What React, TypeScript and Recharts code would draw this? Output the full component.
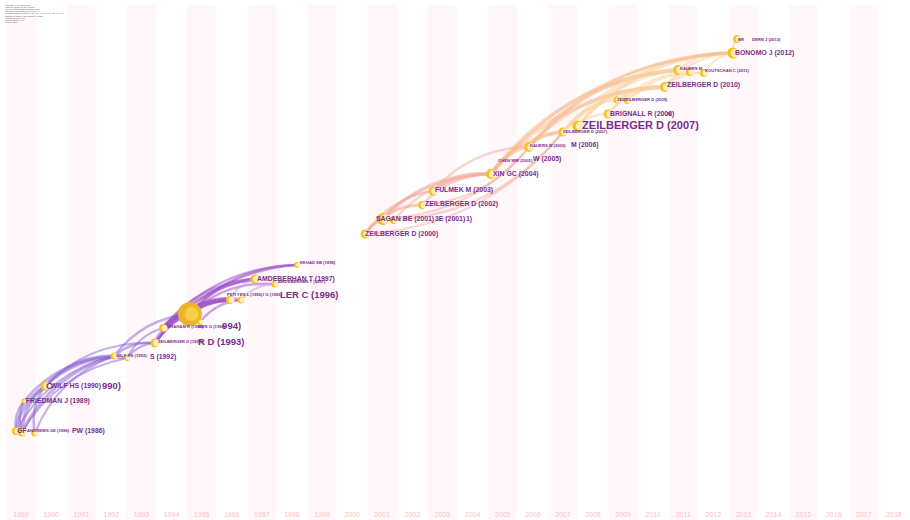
import React from 'react';
import { ScatterChart, Scatter, XAxis, YAxis, ReferenceArea, ReferenceLine } from 'recharts';

// ---- data ----
const years = [1989, 1990, 1991, 1992, 1993, 1994, 1995, 1996, 1997, 1998, 1999, 2000, 2001, 2002, 2003, 2004, 2005, 2006, 2007, 2008, 2009, 2010, 2011, 2012, 2013, 2014, 2015, 2016, 2017, 2018];

// cited references: x = time-zone position (year), y = layout row, cites = citation count
const nodes = [
  { id: 'a1', x: 1988.83, y: 431, cites: 11 },
  { id: 'a2', x: 1989.03, y: 432, cites: 14 },
  { id: 'a3', x: 1989.46, y: 433, cites: 9 },
  { id: 'fr', x: 1989.1, y: 401, cites: 4 },
  { id: 'w90', x: 1989.8, y: 386, cites: 14 },
  { id: 'w92', x: 1992.09, y: 356, cites: 9 },
  { id: 'w92b', x: 1992.52, y: 358, cites: 6 },
  { id: 'z93', x: 1993.45, y: 343, cites: 14 },
  { id: 'g94', x: 1993.72, y: 328, cites: 11 },
  { id: 'big', x: 1994.61, y: 314, cites: 100 },
  { id: 'e94', x: 1994.95, y: 322, cites: 6 },
  { id: 'p96a', x: 1995.94, y: 300, cites: 11 },
  { id: 'p96b', x: 1996.31, y: 300, cites: 9 },
  { id: 'a97a', x: 1996.77, y: 279, cites: 14 },
  { id: 'a97b', x: 1997.44, y: 284, cites: 9 },
  { id: 'ek98', x: 1998.17, y: 265, cites: 6 },
  { id: 'z00', x: 2000.43, y: 234, cites: 14 },
  { id: 's01a', x: 2001.02, y: 219, cites: 25 },
  { id: 's01b', x: 2001.39, y: 220, cites: 11 },
  { id: 'z02', x: 2002.32, y: 205, cites: 11 },
  { id: 'f03', x: 2002.69, y: 191, cites: 14 },
  { id: 'x04', x: 2004.61, y: 174, cites: 17 },
  { id: 'k06', x: 2005.88, y: 147, cites: 17 },
  { id: 'z07a', x: 2007.0, y: 132, cites: 14 },
  { id: 'z07b', x: 2007.5, y: 126, cites: 21 },
  { id: 'b08', x: 2008.5, y: 114, cites: 14 },
  { id: 'z09a', x: 2008.8, y: 100, cites: 9 },
  { id: 'z09b', x: 2009.13, y: 101, cites: 6 },
  { id: 'z10', x: 2010.39, y: 87, cites: 17 },
  { id: 'k11a', x: 2010.83, y: 70, cites: 17 },
  { id: 'k11b', x: 2011.22, y: 72, cites: 11 },
  { id: 'k11c', x: 2011.69, y: 73, cites: 11 },
  { id: 'bo12', x: 2012.65, y: 53, cites: 21 },
  { id: 'br13', x: 2012.79, y: 39, cites: 11 },
];

// visible label texts: x = left edge (year), y = row, level = citation level
const labels = [
  { text: 'GF', x: 1988.87, y: 430, level: 2 },
  { text: 'ANDREWS GE (1986)', x: 1989.2, y: 430, level: 1 },
  { text: 'PW (1986)', x: 1990.69, y: 430, level: 2 },
  { text: 'FRIEDMAN J (1989)', x: 1989.16, y: 400, level: 2 },
  { text: 'C', x: 1989.83, y: 385, level: 3 },
  { text: 'WILF HS (1990)', x: 1989.99, y: 385, level: 2 },
  { text: '990)', x: 1991.69, y: 385, level: 3 },
  { text: 'WILF HS (1992)', x: 1992.16, y: 355, level: 1 },
  { text: 'S (1992)', x: 1993.28, y: 356, level: 2 },
  { text: 'ZEILBERGER D (1993)', x: 1993.55, y: 341, level: 1 },
  { text: 'R D (1993)', x: 1994.88, y: 341, level: 3 },
  { text: 'GRAHAM R (1994)', x: 1993.85, y: 326, level: 1 },
  { text: 'EWS G (1994)', x: 1994.88, y: 326, level: 1 },
  { text: '994)', x: 1995.68, y: 325, level: 3 },
  { text: 'PETI', x: 1995.84, y: 294, level: 1 },
  { text: 'YEN L (1996)', x: 1996.17, y: 294, level: 1 },
  { text: 'I G (1996)', x: 1997.04, y: 294, level: 1 },
  { text: 'LER C (1996)', x: 1997.6, y: 294, level: 3 },
  { text: 'AMDEBERHAN T (1997)', x: 1996.84, y: 278, level: 2 },
  { text: 'AMDEBERHAN T (1997)', x: 1997.54, y: 281, level: 1 },
  { text: 'EKHAD SB (1998)', x: 1998.27, y: 262, level: 1 },
  { text: 'ZEILBERGER D (2000)', x: 2000.43, y: 233, level: 2 },
  { text: 'SAGAN BE (2001)', x: 2000.79, y: 218, level: 2 },
  { text: '3E (2001)', x: 2002.75, y: 218, level: 2 },
  { text: '1)', x: 2003.78, y: 218, level: 2 },
  { text: 'ZEILBERGER D (2002)', x: 2002.42, y: 203, level: 2 },
  { text: 'FULMEK M (2003)', x: 2002.75, y: 189, level: 2 },
  { text: 'XIN GC (2004)', x: 2004.68, y: 173, level: 2 },
  { text: 'CHEN WW (2005)', x: 2004.85, y: 160, level: 1 },
  { text: 'W (2005)', x: 2006.01, y: 158, level: 2 },
  { text: 'KAUERS M (2006)', x: 2005.91, y: 145, level: 1 },
  { text: 'M (2006)', x: 2007.27, y: 144, level: 2 },
  { text: 'ZEILBERGER D (2007)', x: 2007.0, y: 131, level: 1 },
  { text: 'ZEILBERGER D (2007)', x: 2007.64, y: 125, level: 4 },
  { text: 'BRIGNALL R (2008)', x: 2008.57, y: 113, level: 2 },
  { text: '8)', x: 2010.46, y: 113, level: 1 },
  { text: 'ZEI', x: 2008.8, y: 99, level: 1 },
  { text: 'ZEILBERGER D (2009)', x: 2009.0, y: 99, level: 1 },
  { text: 'ZEILBERGER D (2010)', x: 2010.46, y: 84, level: 2 },
  { text: 'KAUERS M', x: 2010.89, y: 68, level: 1 },
  { text: 'KOUTSCHAN C (2011)', x: 2011.72, y: 70, level: 1 },
  { text: 'BONOMO J (2012)', x: 2012.72, y: 52, level: 2 },
  { text: 'BR', x: 2012.82, y: 39, level: 1 },
  { text: 'DERN J (2013)', x: 2013.28, y: 39, level: 1 },
];

// co-citation links: [source, target, strength, arc side]
const links: [string, string, number, number][] = [
  ['a1', 'w90', 3.5, 1], ['a2', 'w90', 3.5, 1], ['a3', 'w90', 2.5, 1], ['a1', 'fr', 2.5, 1], ['a2', 'fr', 2.5, 1],
  ['a1', 'w92', 2, 1], ['a2', 'w92', 3, 1], ['a3', 'w92', 2, 1], ['fr', 'w92', 2.5, 1], ['w90', 'w92', 3.5, 1],
  ['w90', 'w92b', 3, 1], ['a2', 'w92b', 2, 1],
  ['w92', 'z93', 2.5, 1], ['w92b', 'z93', 2, 1], ['w92', 'big', 2.5, 1], ['w92b', 'g94', 2, 1], ['w90', 'z93', 2, 1],
  ['z93', 'big', 4.5, 1], ['g94', 'big', 4.5, 1], ['big', 'p96a', 5.5, 1], ['big', 'p96b', 4, 1], ['g94', 'p96a', 3.5, 1],
  ['z93', 'p96a', 2.5, 1], ['z93', 'a97a', 2.5, 1], ['g94', 'a97a', 3, 1], ['g94', 'ek98', 2.5, 1], ['big', 'a97a', 3.5, 1],
  ['big', 'a97b', 2.5, 1], ['z93', 'ek98', 2, 1], ['p96a', 'a97a', 2.5, 1], ['p96b', 'a97b', 2.5, 1], ['big', 'ek98', 2.5, 1],
  ['e94', 'p96b', 2.5, 1],
  ['z00', 's01a', 2.5, 1], ['z00', 'z02', 2, 1], ['s01a', 'z02', 2.5, 1], ['s01a', 'f03', 2.5, 1], ['z00', 'f03', 2, 1],
  ['s01a', 'x04', 3.5, 1], ['s01b', 'x04', 2.5, 1], ['z02', 'x04', 3, 1], ['f03', 'x04', 2.5, 1], ['z00', 'x04', 2.5, 1],
  ['s01a', 'k06', 2.5, -1], ['z00', 'z07a', 2, -1], ['s01b', 'z07a', 2.5, -1], ['z02', 'k06', 2, -1],
  ['x04', 'k06', 3, 1], ['x04', 'z07a', 3.5, 1], ['f03', 'k06', 2.5, 1], ['k06', 'z07a', 3, 1],
  ['x04', 'z10', 4, 1], ['x04', 'k11a', 3.5, 1], ['k06', 'k11a', 4, 1], ['k06', 'z10', 3, 1], ['z07a', 'bo12', 3.5, 1],
  ['z07b', 'k11a', 3.5, 1], ['z07b', 'bo12', 3, 1], ['b08', 'z10', 2.5, 1], ['b08', 'k11b', 2.5, 1], ['z09a', 'z10', 2.5, 1],
  ['z10', 'bo12', 2.5, 1], ['k11a', 'bo12', 2.5, 1], ['bo12', 'br13', 2, 1], ['z07a', 'z10', 3.5, 1], ['k06', 'bo12', 3, 1],
  ['x04', 'bo12', 2.5, 1], ['z07a', 'z09a', 2.5, 1], ['z07b', 'b08', 2.5, 1], ['z10', 'k11c', 2.5, 1], ['k11c', 'bo12', 2, 1],
  ['z09b', 'k11c', 2, 1],
];

const metaLines = [
  'CiteSpace, v. 5.7.R5 (64-bit)',
  'March 17, 2021 9:41:12 AM CST',
  'WoS: C:\\Users\\Desktop\\citespace\\data',
  'Timespan: 1989-2018 (Slice Length=1)',
  'Selection Criteria: g-index (k=25), LRF=3.0, L/N=10, LBY=5, e=1.0',
  'Network: N=312, E=1190 (Density=0.0245)',
  'Largest CC: 296 (94%)',
  'Nodes Labeled: 1.0%',
  'Pruning: None',
];

// ---- styling helpers ----
const FONT = '"Liberation Sans", Arial, sans-serif';
const LABEL_SIZE: Record<number, number> = { 1: 4.2, 2: 6.9, 3: 9.5, 4: 11 };
const nodeById: Record<string, { x: number; y: number }> = {};
nodes.forEach((n) => { nodeById[n.id] = n; });

const linkColor = (year: number) => {
  if (year < 1992.9) return '#8a62d4';
  if (year < 1995.5) return '#9a4cc9';
  if (year < 1999) return '#c9a0e4';
  if (year < 2003.5) return '#f4ab9f';
  if (year < 2006.5) return '#f7bc90';
  return '#fad29c';
};

const LinkPath = (p: any) => {
  const { x1, y1, x2, y2, w, side, color } = p;
  if ([x1, y1, x2, y2].some((v) => typeof v !== 'number' || isNaN(v))) return null;
  const dx = x2 - x1;
  const dy = y2 - y1;
  const k = 0.22 * side;
  const qx = (x1 + x2) / 2 + k * dy;
  const qy = (y1 + y2) / 2 - k * dx;
  return (
    <path d={`M${x1},${y1} Q${qx},${qy} ${x2},${y2}`} fill="none" stroke={color} strokeOpacity={0.5} strokeWidth={w} strokeLinecap="round" />
  );
};

const NodeShape = (p: any) => {
  const { cx, cy, payload } = p;
  const r = 1.2 * Math.sqrt(payload.cites);
  const bigNode = r > 8;
  return (
    <g>
      <circle cx={cx} cy={cy} r={r} fill={bigNode ? '#eab52a' : '#f6c01e'} />
      <circle cx={cx + r * (bigNode ? 0.15 : 0.4)} cy={cy} r={r * (bigNode ? 0.6 : 0.78)} fill={bigNode ? '#f6cf4a' : '#fff3cc'} fillOpacity={0.9} />
    </g>
  );
};

const LabelShape = (p: any) => {
  const { cx, cy, payload } = p;
  return (
    <text x={cx} y={cy} fontSize={LABEL_SIZE[payload.level]} fontWeight="bold" fontFamily={FONT} fill="#7b2d8e" dominantBaseline="central">
      {payload.text}
    </text>
  );
};

export default function App() {
  const bandYears = years.filter((_, i) => i % 2 === 0);
  return (
    <div style={{ position: 'absolute', left: 0, top: 0, width: 910, height: 520, background: '#ffffff' }}>
      <ScatterChart width={910} height={520} margin={{ top: 0, right: 1, bottom: 0, left: 6 }}>
        <XAxis
          type="number"
          dataKey="x"
          domain={[1988.5, 2018.5]}
          ticks={years}
          interval={0}
          mirror
          axisLine={false}
          tickLine={false}
          tickSize={0}
          tickMargin={3}
          tick={{ fill: '#f7bfcb', fontSize: 7, fontFamily: FONT }}
          allowDataOverflow
        />
        <YAxis type="number" dataKey="y" domain={[0, 520]} reversed hide allowDataOverflow />
        {bandYears.map((yr) => (
          <ReferenceArea key={yr} x1={yr - 0.48} x2={yr + 0.48} y1={5} y2={520} fill="#fff7f9" fillOpacity={1} stroke="none" ifOverflow="visible" />
        ))}
        {links.map(([s, t, w, side], i) => {
          const a = nodeById[s];
          const b = nodeById[t];
          return (
            <ReferenceLine
              key={i}
              segment={[{ x: a.x, y: a.y }, { x: b.x, y: b.y }]}
              ifOverflow="visible"
              shape={(props: any) => <LinkPath {...props} w={w} side={side} color={linkColor(a.x)} />}
            />
          );
        })}
        <Scatter data={nodes} shape={NodeShape} isAnimationActive={false} />
        <Scatter data={labels} shape={LabelShape} isAnimationActive={false} />
      </ScatterChart>
      <svg width={120} height={30} style={{ position: 'absolute', left: 0, top: 0 }}>
        {metaLines.map((t, i) => (
          <text key={i} x={5} y={6 + i * 2.1} fontSize={2} fontFamily={FONT} fill="#555">
            {t}
          </text>
        ))}
      </svg>
    </div>
  );
}
